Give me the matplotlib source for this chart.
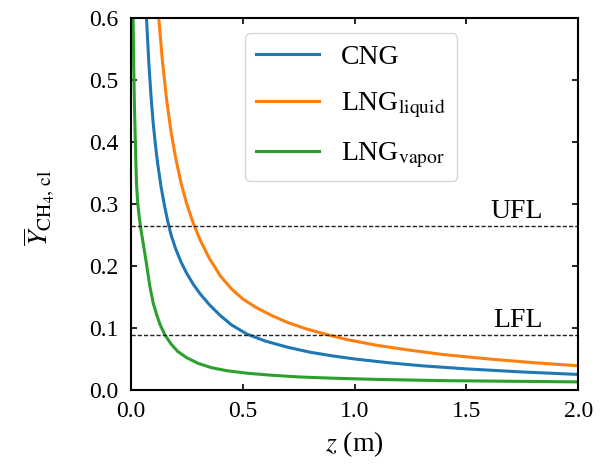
import matplotlib
matplotlib.use("Agg")
import matplotlib.pyplot as plt

# values
cng_z = [0.065, 0.07, 0.08, 0.09, 0.10, 0.11, 0.12, 0.135, 0.15, 0.165, 0.18, 0.20, 0.225, 0.25,
         0.28, 0.31, 0.35, 0.40, 0.45, 0.52, 0.60, 0.70, 0.80, 0.90, 1.0, 1.15, 1.3, 1.5, 1.75, 2.0]
cng_y = [0.65, 0.60, 0.53, 0.475, 0.43, 0.395, 0.365, 0.328, 0.298, 0.272, 0.250, 0.228, 0.206, 0.188,
         0.170, 0.155, 0.138, 0.120, 0.105, 0.090, 0.079, 0.069, 0.061, 0.055, 0.050, 0.044, 0.039,
         0.034, 0.029, 0.025]

lngl_z = [0.115, 0.125, 0.14, 0.16, 0.18, 0.20, 0.225, 0.25, 0.28, 0.31, 0.35, 0.40, 0.45, 0.50,
          0.56, 0.63, 0.70, 0.78, 0.87, 0.97, 1.1, 1.25, 1.4, 1.6, 1.8, 2.0]
lngl_y = [0.64, 0.60, 0.535, 0.468, 0.416, 0.375, 0.333, 0.300, 0.268, 0.242, 0.213, 0.184, 0.163,
          0.147, 0.133, 0.120, 0.109, 0.099, 0.090, 0.081, 0.072, 0.064, 0.057, 0.050, 0.044, 0.039]

lngv_z = [0.008, 0.010, 0.013, 0.016, 0.020, 0.025, 0.030, 0.036, 0.042, 0.05, 0.06, 0.07, 0.085,
          0.10, 0.115, 0.13, 0.152, 0.18, 0.21, 0.25, 0.30, 0.36, 0.43, 0.52, 0.62, 0.75, 0.9,
          1.1, 1.4, 1.7, 2.0]
lngv_y = [0.70, 0.60, 0.52, 0.46, 0.40, 0.335, 0.305, 0.284, 0.266, 0.248, 0.226, 0.203, 0.167,
          0.140, 0.122, 0.106, 0.089, 0.074, 0.062, 0.052, 0.043, 0.036, 0.031, 0.027, 0.024, 0.021,
          0.019, 0.017, 0.015, 0.014, 0.013]

ufl = 0.265
lfl = 0.089

plt.rcParams['font.family'] = ['Liberation Serif', 'DejaVu Serif']
plt.rcParams['mathtext.fontset'] = 'stix'

fig = plt.figure(figsize=(6.03, 4.67), dpi=100)
ax = fig.add_axes([0.217, 0.165, 0.742, 0.796])

ax.plot(cng_z, cng_y, color='#1f77b4', lw=2.2, label='CNG')
ax.plot(lngl_z, lngl_y, color='#ff7f0e', lw=2.2, label=r'LNG$_\mathrm{liquid}$')
ax.plot(lngv_z, lngv_y, color='#2ca02c', lw=2.2, label=r'LNG$_\mathrm{vapor}$')

ax.axhline(ufl, color='#222222', lw=1.0, ls=(0, (3, 1.5)))
ax.axhline(lfl, color='#222222', lw=1.0, ls=(0, (3, 1.5)))
ax.text(1.84, ufl + 0.013, 'UFL', ha='right', va='baseline', fontsize=20)
ax.text(1.84, lfl + 0.013, 'LFL', ha='right', va='baseline', fontsize=20)

ax.set_xlim(0, 2.0)
ax.set_ylim(0, 0.6)
ax.set_xticks([0.0, 0.5, 1.0, 1.5, 2.0])
ax.set_yticks([0.0, 0.1, 0.2, 0.3, 0.4, 0.5, 0.6])
ax.tick_params(direction='in', top=True, right=True, length=4, width=1.2, labelsize=17)
ax.tick_params(axis='x', pad=8)
ax.tick_params(axis='y', pad=9)
for s in ax.spines.values():
    s.set_linewidth(1.5)

ax.set_xlabel(r'$z$ (m)', fontsize=20, labelpad=5)
ax.set_ylabel(r'$\overline{Y}_{\mathrm{CH_4,\,cl}}$', fontsize=20)
ax.yaxis.set_label_coords(-0.165, 0.49)

ax.legend(loc='upper left', bbox_to_anchor=(0.255, 0.96), borderaxespad=0, fontsize=20,
          handlelength=2.27, handletextpad=0.8, labelspacing=0.75, edgecolor='#cccccc')

fig.savefig('out.png', dpi=100)
